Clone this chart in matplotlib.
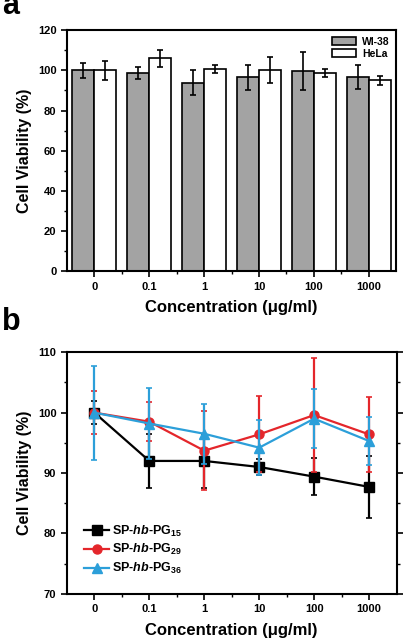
import numpy as np
import matplotlib
matplotlib.use('Agg')
import matplotlib.pyplot as plt
from matplotlib.ticker import MultipleLocator, FixedLocator

plt.rcParams['font.family'] = 'Liberation Sans'
plt.rcParams['font.weight'] = 'bold'
plt.rcParams['mathtext.fontset'] = 'custom'
plt.rcParams['mathtext.rm'] = 'Liberation Sans:bold'
plt.rcParams['mathtext.it'] = 'Liberation Sans:italic:bold'
plt.rcParams['mathtext.bf'] = 'Liberation Sans:bold'

conc = ['0', '0.1', '1', '10', '100', '1000']

# panel a
wi38 = [100.0, 98.7, 93.9, 96.6, 99.8, 96.7]
wi38_err = [3.9, 3.2, 6.4, 6.2, 9.5, 6.0]
hela = [100.0, 106.0, 100.5, 100.2, 98.7, 95.0]
hela_err = [4.6, 4.4, 2.0, 6.6, 1.8, 2.3]

# panel b
pg15 = [100.0, 92.0, 92.0, 91.0, 89.4, 87.7]
pg15_err = [1.9, 4.4, 4.5, 1.3, 3.1, 5.2]
pg29 = [100.0, 98.5, 93.7, 96.4, 99.6, 96.4]
pg29_err = [3.6, 3.2, 6.5, 6.3, 9.5, 6.2]
pg36 = [100.0, 98.2, 96.5, 94.2, 99.0, 95.3]
pg36_err = [7.8, 5.9, 5.0, 4.6, 4.9, 4.0]

fig = plt.figure(figsize=(4.03, 6.44), dpi=100)
ax1 = fig.add_axes([0.166, 0.579, 0.817, 0.374])
ax2 = fig.add_axes([0.166, 0.078, 0.818, 0.375])

x = np.arange(len(conc))
w = 0.4
ax1.bar(x - w / 2, wi38, w, yerr=wi38_err, color='#a3a3a3', edgecolor='black',
        linewidth=1.2, capsize=2.5, error_kw=dict(elinewidth=1.2, capthick=1.2), label='WI-38')
ax1.bar(x + w / 2, hela, w, yerr=hela_err, color='white', edgecolor='black',
        linewidth=1.2, capsize=2.5, error_kw=dict(elinewidth=1.2, capthick=1.2), label='HeLa')
ax1.set_xlim(-0.5, 5.5)
ax1.set_ylim(0, 120)
ax1.yaxis.set_major_locator(MultipleLocator(20))
ax1.yaxis.set_minor_locator(MultipleLocator(10))
ax1.set_xticks(x)
ax1.set_xticklabels(conc)
ax1.xaxis.set_minor_locator(FixedLocator(x[:-1] + 0.5))
ax1.set_ylabel('Cell Viability (%)', fontsize=11.5, fontweight='bold')
ax1.set_xlabel('Concentration (\u03bcg/ml)', fontsize=12, fontweight='bold', labelpad=6)
ax1.legend(loc='upper right', fontsize=7.5, frameon=False, handlelength=2.3,
           handleheight=0.9, borderaxespad=0.2, labelspacing=0.2, handletextpad=0.6)

lines = [(pg15, pg15_err, 'black', 's', r'SP-$\it{hb}$-PG$_{15}$'),
         (pg29, pg29_err, '#e4262b', 'o', r'SP-$\it{hb}$-PG$_{29}$'),
         (pg36, pg36_err, '#2c9fd9', '^', r'SP-$\it{hb}$-PG$_{36}$')]
for vals, err, c, m, lab in lines:
    ax2.errorbar(x, vals, yerr=err, fmt='none', ecolor=c, elinewidth=1.6,
                 capsize=2.5, capthick=1.2)
    ax2.plot(x, vals, color=c, marker=m, markersize=6.5, linewidth=1.6, label=lab)
ax2.set_xlim(-0.5, 5.5)
ax2.set_ylim(70, 110)
ax2.yaxis.set_major_locator(MultipleLocator(10))
ax2.yaxis.set_minor_locator(MultipleLocator(5))
ax2.set_xticks(x)
ax2.set_xticklabels(conc)
ax2.xaxis.set_minor_locator(FixedLocator(x[:-1] + 0.5))
ax2.tick_params(right=True, which='both')
ax2.set_ylabel('Cell Viability (%)', fontsize=11.5, fontweight='bold')
ax2.set_xlabel('Concentration (\u03bcg/ml)', fontsize=12, fontweight='bold', labelpad=6)
ax2.legend(loc='lower left', fontsize=9, frameon=False, handlelength=2.0,
           borderaxespad=1.0, labelspacing=0.3, handletextpad=0.2)

for ax in (ax1, ax2):
    for s in ax.spines.values():
        s.set_linewidth(1.5)
    ax.tick_params(which='major', length=4, width=1.2, labelsize=8)
    ax.tick_params(which='minor', length=2, width=1)

fig.text(0.005, 0.978, 'a', fontsize=22, fontweight='bold', va='baseline')
fig.text(0.005, 0.488, 'b', fontsize=22, fontweight='bold', va='baseline')

fig.savefig('out.png', dpi=100)
